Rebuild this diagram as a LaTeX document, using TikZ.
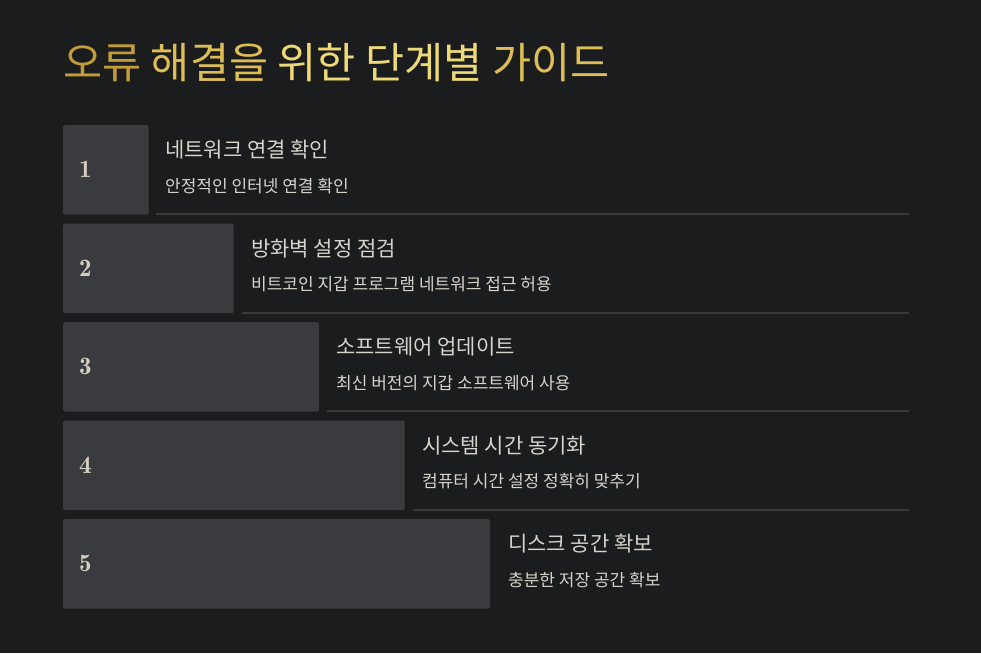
\documentclass[tikz,border=0pt]{standalone}
\usepackage{fontspec}
\usepackage{xcolor}
\usepackage{tikz}
\usetikzlibrary{positioning}

\newfontfamily\krfont{Noto Sans CJK KR}
\newfontfamily\numfont{lmromandemi10-regular.otf}

\definecolor{bgdark}{HTML}{1B1C1E}
\definecolor{boxgray}{HTML}{3A3B3E}
\definecolor{rulegray}{HTML}{38393C}
\definecolor{txtlight}{HTML}{D6D3CC}
\definecolor{numlight}{HTML}{D4CFBE}
\definecolor{golddark}{HTML}{C29C36}
\definecolor{goldmid}{HTML}{DDBE55}
\definecolor{goldlight}{HTML}{EDD976}

\tikzset{
	stepbox/.style={fill=boxgray, rounded corners=2pt, minimum height=89.5pt, inner sep=0pt, anchor=north west},
	stepnum/.style={anchor=west, inner sep=0pt, text=numlight, font=\numfont\fontsize{25}{25}\selectfont},
	steptitle/.style={anchor=west, inner sep=0pt, text=txtlight, font=\krfont\fontsize{21}{21}\selectfont},
	stepdesc/.style={anchor=west, inner sep=0pt, text=txtlight, font=\krfont\fontsize{17}{17}\selectfont},
	steprule/.style={draw=rulegray, line width=2pt}
}

\begin{document}
\begin{tikzpicture}[x=1pt,y=-1pt]
		\fill[bgdark] (0,0) rectangle (981,653);
		%
		\node[anchor=west, inner sep=0pt, font=\krfont\fontsize{42.5}{42.5}\selectfont] (head) at (63,63)
		{\textcolor{golddark}{오류} \textcolor{goldmid}{해결을} \textcolor{goldlight}{위한 단계별} \textcolor{goldmid}{가이드}};
		%
		\node[stepbox, minimum width=85.4pt] (box1) at (63,125) {};
		\node[stepbox, minimum width=170.5pt] (box2) at (63,223.5) {};
		\node[stepbox, minimum width=256pt] (box3) at (63,322) {};
		\node[stepbox, minimum width=341.5pt] (box4) at (63,420.5) {};
		\node[stepbox, minimum width=427pt] (box5) at (63,519) {};
		%
		\node[stepnum] (num1) at (79,169.5) {1};
		\node[stepnum] (num2) at (79,268) {2};
		\node[stepnum] (num3) at (79,366.5) {3};
		\node[stepnum] (num4) at (79,465) {4};
		\node[stepnum] (num5) at (79,563.5) {5};
		%
		\node[steptitle] (title1) at (165,150) {네트워크 연결 확인};
		\node[stepdesc] (desc1) at (165,186) {안정적인 인터넷 연결 확인};
		\node[steptitle] (title2) at (251,248.5) {방화벽 설정 점검};
		\node[stepdesc] (desc2) at (251,284.5) {비트코인 지갑 프로그램 네트워크 접근 허용};
		\node[steptitle] (title3) at (336,347) {소프트웨어 업데이트};
		\node[stepdesc] (desc3) at (336,383) {최신 버전의 지갑 소프트웨어 사용};
		\node[steptitle] (title4) at (422,445.5) {시스템 시간 동기화};
		\node[stepdesc] (desc4) at (422,481.5) {컴퓨터 시간 설정 정확히 맞추기};
		\node[steptitle] (title5) at (508,544) {디스크 공간 확보};
		\node[stepdesc] (desc5) at (508,580) {충분한 저장 공간 확보};
		%
		\coordinate (r1a) at (156,214);   \coordinate (r1b) at (909,214);
		\coordinate (r2a) at (242,312.5); \coordinate (r2b) at (909,312.5);
		\coordinate (r3a) at (327,411);   \coordinate (r3b) at (909,411);
		\coordinate (r4a) at (413,509.5); \coordinate (r4b) at (909,509.5);
		\draw[steprule] (r1a) -- (r1b);
		\draw[steprule] (r2a) -- (r2b);
		\draw[steprule] (r3a) -- (r3b);
		\draw[steprule] (r4a) -- (r4b);
\end{tikzpicture}
\end{document}
